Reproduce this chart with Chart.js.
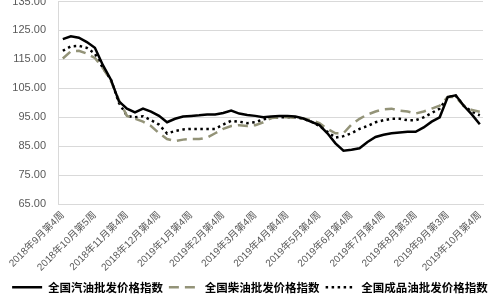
<!DOCTYPE html>
<html lang="zh">
<head>
<meta charset="UTF-8">
<title>chart</title>
<script src="https://cdn.jsdelivr.net/npm/chart.js"></script>
<style>
  html, body { margin: 0; padding: 0; background: #fff; }
  #wrap { width: 500px; height: 300px; }
</style>
</head>
<body>
<div id="wrap"><canvas id="myChart"></canvas></div>
<script>
// tick labels, one shown every 4 weeks
const tickLabels = ['2018年9月第4周', '2018年10月第5周', '2018年11月第4周', '2018年12月第4周',
  '2019年1月第4周', '2019年2月第4周', '2019年3月第4周', '2019年4月第4周', '2019年5月第4周',
  '2019年6月第4周', '2019年7月第4周', '2019年8月第3周', '2019年9月第3周', '2019年10月第4周'];
const tickEvery = 4;

// weekly index values
const gasoline = [122, 123, 122.5, 121, 119, 113, 108, 100.5, 98, 96.7,
  98, 97, 95.5, 93.3, 94.5, 95.3, 95.5, 95.7, 96, 96,
  96.5, 97.3, 96.3, 95.8, 95.5, 95, 95.3, 95.5, 95.5, 95.3,
  94.6, 93.4, 92.3, 89.5, 86, 83.5, 83.8, 84.3, 86.5, 88.2,
  89, 89.5, 89.8, 90, 90, 91.5, 93.5, 95, 102, 102.6,
  99, 96, 92.6];
const diesel = [115.3, 117.8, 118, 117, 115.5, 112, 107.5, 101, 95.5, 94.5,
  93.5, 92, 89.5, 87.5, 86.8, 87.3, 87.5, 87.5, 88, 89.5,
  91, 92, 92.3, 92, 92.3, 93.3, 94.8, 95, 95, 94.8,
  94.6, 94, 93, 91, 89.5, 89.5, 92.5, 94.5, 96, 97,
  97.8, 98, 97.3, 97, 96.3, 97, 98, 99, 102, 102,
  99, 97.5, 96.9];
const products = [118, 119.5, 119.7, 119, 117, 112, 108, 100, 95.5, 95,
  95.4, 94, 92.5, 89.4, 90.3, 90.8, 91, 91, 91, 91,
  92.5, 93.8, 93.5, 93, 93.3, 94.3, 94.8, 95, 95, 95,
  94.5, 93.5, 92, 90, 88, 88.5, 89.5, 91, 92, 93.3,
  94, 94.5, 94.5, 94, 94, 95, 96.5, 98, 102, 102.5,
  99, 97, 95.7];

function pts(arr) {
  return arr.map((v, i) => ({ x: i, y: v }));
}

const data = {
  datasets: [
    {
      label: '全国汽油批发价格指数',
      data: pts(gasoline),
      borderColor: '#000000',
      backgroundColor: '#000000',
      borderWidth: 2.5,
      pointRadius: 0,
      tension: 0
    },
    {
      label: '全国柴油批发价格指数',
      data: pts(diesel),
      borderColor: '#939378',
      backgroundColor: '#939378',
      borderWidth: 2.5,
      borderDash: [10, 6],
      pointRadius: 0,
      tension: 0
    },
    {
      label: '全国成品油批发价格指数',
      data: pts(products),
      borderColor: '#000000',
      backgroundColor: '#000000',
      borderWidth: 2.5,
      borderDash: [2.5, 3.5],
      pointRadius: 0,
      tension: 0
    }
  ]
};

const config = {
  type: 'line',
  data: data,
  options: {
    responsive: true,
    maintainAspectRatio: false,
    animation: false,
    layout: { padding: { top: 0, left: 0, right: 0, bottom: -3 } },
    plugins: {
      tooltip: { enabled: false },
      legend: {
        position: 'bottom',
        labels: {
          usePointStyle: true,
          pointStyle: 'line',
          pointStyleWidth: 30,
          padding: 6,
          color: '#000',
          font: { family: "'Noto Sans CJK SC', sans-serif", size: 11.5, weight: 'bold' },
          generateLabels: function(chart) {
            const items = Chart.defaults.plugins.legend.labels.generateLabels(chart);
            items.forEach(function(it) {
              const ds = chart.data.datasets[it.datasetIndex];
              it.lineDash = ds.borderDash || [];
              it.lineWidth = ds.borderWidth;
              it.strokeStyle = ds.borderColor;
            });
            return items;
          }
        }
      }
    },
    scales: {
      x: {
        type: 'linear',
        min: -0.6,
        max: 52.4,
        grid: { display: false, drawTicks: false },
        border: { color: '#d9d9d9' },
        afterBuildTicks: function(scale) {
          scale.ticks = tickLabels.map((t, i) => ({ value: i * tickEvery }));
        },
        afterFit: function(scale) {
          scale.paddingRight = 17;
          scale.paddingLeft = 0;
          scale.height -= 3;
        },
        ticks: {
          autoSkip: false,
          minRotation: 45,
          maxRotation: 45,
          padding: 5,
          color: '#595959',
          font: { family: "'Liberation Sans', 'Noto Sans CJK SC', sans-serif", size: 10 },
          callback: function(v) { return tickLabels[v / tickEvery]; }
        }
      },
      y: {
        min: 65,
        max: 135,
        grid: { color: '#d9d9d9', drawTicks: false },
        border: { color: '#d9d9d9' },
        afterFit: function(scale) {
          scale.width = 58;
          scale.paddingTop = 1.5;
          scale.paddingBottom = 0;
        },
        ticks: {
          stepSize: 10,
          padding: 12,
          color: '#595959',
          font: { family: "'Liberation Sans', sans-serif", size: 11 },
          callback: function(v) { return v.toFixed(2); }
        }
      }
    }
  }
};

const ctx = document.getElementById('myChart').getContext('2d');
const myChart = new Chart(ctx, config);
</script>
</body>
</html>
